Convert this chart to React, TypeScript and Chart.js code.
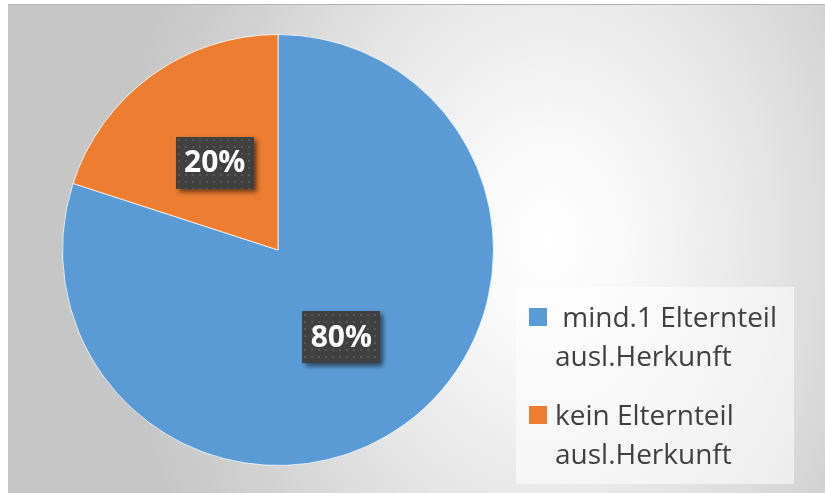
import { useEffect, useRef } from 'react';
import { Chart, registerables } from 'chart.js';

Chart.register(...registerables);

const categories = [' mind.1 Elternteil ausl.Herkunft', 'kein Elternteil ausl.Herkunft'];
const legendLines = [[' mind.1 Elternteil', 'ausl.Herkunft'], ['kein Elternteil', 'ausl.Herkunft']];
const values = [80, 20];
const colors = ['#5B9BD5', '#ED7D31'];

const W = 817;
const H = 489;

function makePattern(ctx: CanvasRenderingContext2D) {
  const c = document.createElement('canvas');
  c.width = 7;
  c.height = 7;
  const p = c.getContext('2d')!;
  p.fillStyle = '#404040';
  p.fillRect(0, 0, 7, 7);
  p.fillStyle = '#575757';
  p.fillRect(2, 2, 2, 2);
  return ctx.createPattern(c, 'repeat');
}

const labelPlugin = {
  id: 'boxLabels',
  afterDatasetsDraw(chart: any) {
    const ctx: CanvasRenderingContext2D = chart.ctx;
    const meta = chart.getDatasetMeta(0);
    const data = chart.data.datasets[0].data as number[];
    const total = data.reduce((a, b) => a + b, 0);
    const pattern = makePattern(ctx);
    meta.data.forEach((arc: any, i: number) => {
      const pt = arc.getCenterPoint();
      const text = Math.round((data[i] / total) * 100) + '%';
      const bw = 78;
      const bh = 52;
      ctx.save();
      ctx.shadowColor = 'rgba(0,0,0,0.55)';
      ctx.shadowBlur = 5;
      ctx.shadowOffsetX = 3;
      ctx.shadowOffsetY = 3;
      ctx.fillStyle = pattern || '#404040';
      ctx.fillRect(Math.round(pt.x - bw / 2), Math.round(pt.y - bh / 2), bw, bh);
      ctx.restore();
      ctx.save();
      ctx.fillStyle = '#ffffff';
      ctx.font = 'bold 30px "Open Sans"';
      ctx.textAlign = 'center';
      ctx.textBaseline = 'middle';
      ctx.fillText(text, pt.x, pt.y + 1);
      ctx.restore();
    });
  },
};

const legendPlugin = {
  id: 'boxLegend',
  afterDraw(chart: any) {
    const ctx: CanvasRenderingContext2D = chart.ctx;
    ctx.save();
    ctx.fillStyle = 'rgba(255,255,255,0.55)';
    ctx.fillRect(508, 283, 278, 197);
    ctx.font = '28px "Open Sans"';
    ctx.textBaseline = 'alphabetic';
    ctx.textAlign = 'left';
    legendLines.forEach((lines, i) => {
      const top = 304 + i * 98;
      ctx.fillStyle = colors[i];
      ctx.fillRect(521, top, 18, 18);
      ctx.fillStyle = '#404040';
      lines.forEach((ln, j) => {
        ctx.fillText(ln, 547, top + 19 + j * 39);
      });
    });
    ctx.restore();
  },
};

export default function App() {
  const ref = useRef<HTMLCanvasElement>(null);
  useEffect(() => {
    if (!ref.current) return;
    const chart = new Chart(ref.current, {
      type: 'pie',
      data: {
        labels: categories,
        datasets: [
          {
            data: values,
            backgroundColor: colors,
            borderColor: 'rgba(255,255,255,0.75)',
            borderWidth: 1,
            hoverOffset: 0,
          },
        ],
      },
      options: {
        responsive: false,
        animation: false,
        layout: { padding: { left: 54, top: 30, right: 331, bottom: 27 } },
        plugins: {
          legend: { display: false },
          tooltip: { enabled: false },
          title: { display: false },
        },
      },
      plugins: [labelPlugin, legendPlugin],
    });
    return () => chart.destroy();
  }, []);
  return (
    <div
      style={{
        position: 'absolute',
        left: 8,
        top: 4,
        width: W,
        height: H,
        background:
          'radial-gradient(ellipse 430px 560px at 540px 236px, #ffffff 0%, #f9f9f9 18%, #e6e6e6 50%, #d2d2d2 78%, #c6c6c6 100%)',
        boxShadow: 'inset 0 1px 0 #b4b4b4',
      }}
    >
      <canvas ref={ref} width={W} height={H} style={{ display: 'block' }} />
    </div>
  );
}
